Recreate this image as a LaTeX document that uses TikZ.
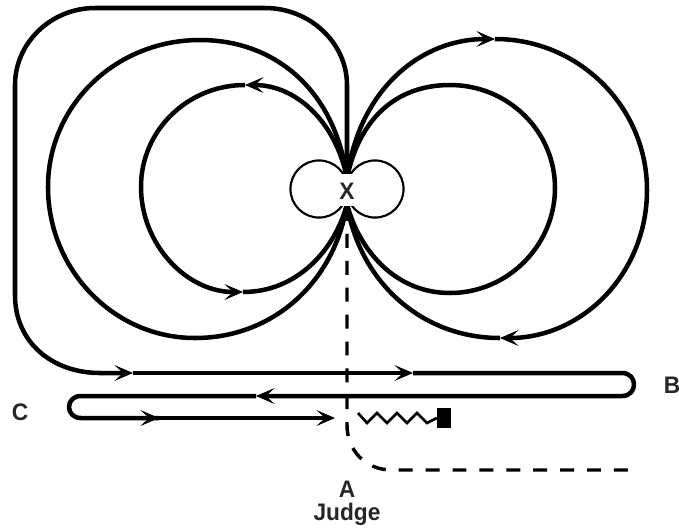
\documentclass[tikz,border=0pt]{standalone}
\usepackage{fontspec}
\setmainfont{Liberation Sans}
\usetikzlibrary{arrows.meta}
\tikzset{
  wire/.style={line width=3.4pt,line join=round},
  barb/.style={wire,-{Stealth[length=14pt,width=12pt,inset=6.5pt,line width=.6pt]}},
  lobe/.style={draw,circle,line width=1.6pt,minimum size=43pt,inner sep=0pt},
  dashline/.style={line width=2.6pt,dash pattern=on 10.5pt off 9.75pt},
  lab/.style={font=\bfseries\fontsize{18}{20}\selectfont,inner sep=0pt,text=black!85,anchor=base,xscale=.95}
}
\begin{document}
\begin{tikzpicture}[x=0.02646cm,y=-0.02646cm]
\useasboundingbox (0,0) rectangle (679,530);
\coordinate (xtop) at (347,178);
\coordinate (xbot) at (347,204);
% dashed line
\draw[dashline] (347,207) -- (347,425) .. controls (347,450) and (365,470) .. (392,470) -- (633,470);
% left loops
\draw[barb] (xtop) .. controls (335,120) and (295,85) .. (245,85);
\draw[barb] (245,85) .. controls (188,85) and (141,130) .. (141,187) .. controls (141,244) and (186,292) .. (243,292);
\draw[wire] (243,292) .. controls (297,292) and (335,250) .. (xbot);
\draw[wire] (xtop) .. controls (335,90) and (275,40) .. (200,40) .. controls (116,40) and (48,105) .. (48,187) .. controls (48,269) and (113,338) .. (195,338) .. controls (275,338) and (335,280) .. (xbot);
% right loops
\draw[wire] (xtop) .. controls (359,120) and (395,85) .. (450,85) .. controls (508,85) and (555,131) .. (555,188) .. controls (555,245) and (508,293) .. (450,293) .. controls (395,293) and (359,250) .. (xbot);
\draw[barb] (xtop) .. controls (359,90) and (420,39) .. (495,39);
\draw[barb] (495,39) .. controls (579,39) and (647,107) .. (647,190) .. controls (647,273) and (583,338) .. (500,338);
\draw[wire] (500,338) .. controls (420,338) and (359,280) .. (xbot);
% long way round
\draw[barb] (xtop) -- (347,85) .. controls (347,43) and (310,8) .. (265,8) -- (95,8) .. controls (51,8) and (15,43) .. (15,85) -- (15,295) .. controls (15,343) and (53,373) .. (100,373) -- (133,373);
\draw[barb] (133,373) -- (413,373);
\draw[barb] (413,373) -- (622,373) .. controls (638,373) and (638,396) .. (622,396) -- (256,396);
\draw[wire] (256,396) -- (81,396) .. controls (65,396) and (65,418) .. (81,418) -- (159,418);
\draw[barb] (120,418) -- (159,418);
\draw[barb] (159,418) -- (335,418);
% spring and block
\node[fill=black,minimum width=10.5pt,minimum height=15pt,inner sep=0pt] (block) at (444,418) {};
\coordinate (springstart) at (358,413);
\draw[line width=2pt] (springstart) -- (367,423) -- (377,413) -- (387,423) -- (397,413) -- (407,423) -- (417,413) -- (427,423) -- (block.west);
% centre figure
\node[lobe] (lobeleft) at (319,189) {};
\node[lobe] (loberight) at (375,189) {};
\node[fill=white,minimum width=12pt,minimum height=24pt,inner sep=0pt] (xbox) at (347,190) {};
\node[lab] (xlabel) at (347,199) {X};
\node[lab] (alabel) at (347,497) {A};
\node[lab] (judge) at (347,520) {Judge};
\node[lab] (blabel) at (672,393) {B};
\node[lab] (clabel) at (20,420) {C};
\end{tikzpicture}
\end{document}
